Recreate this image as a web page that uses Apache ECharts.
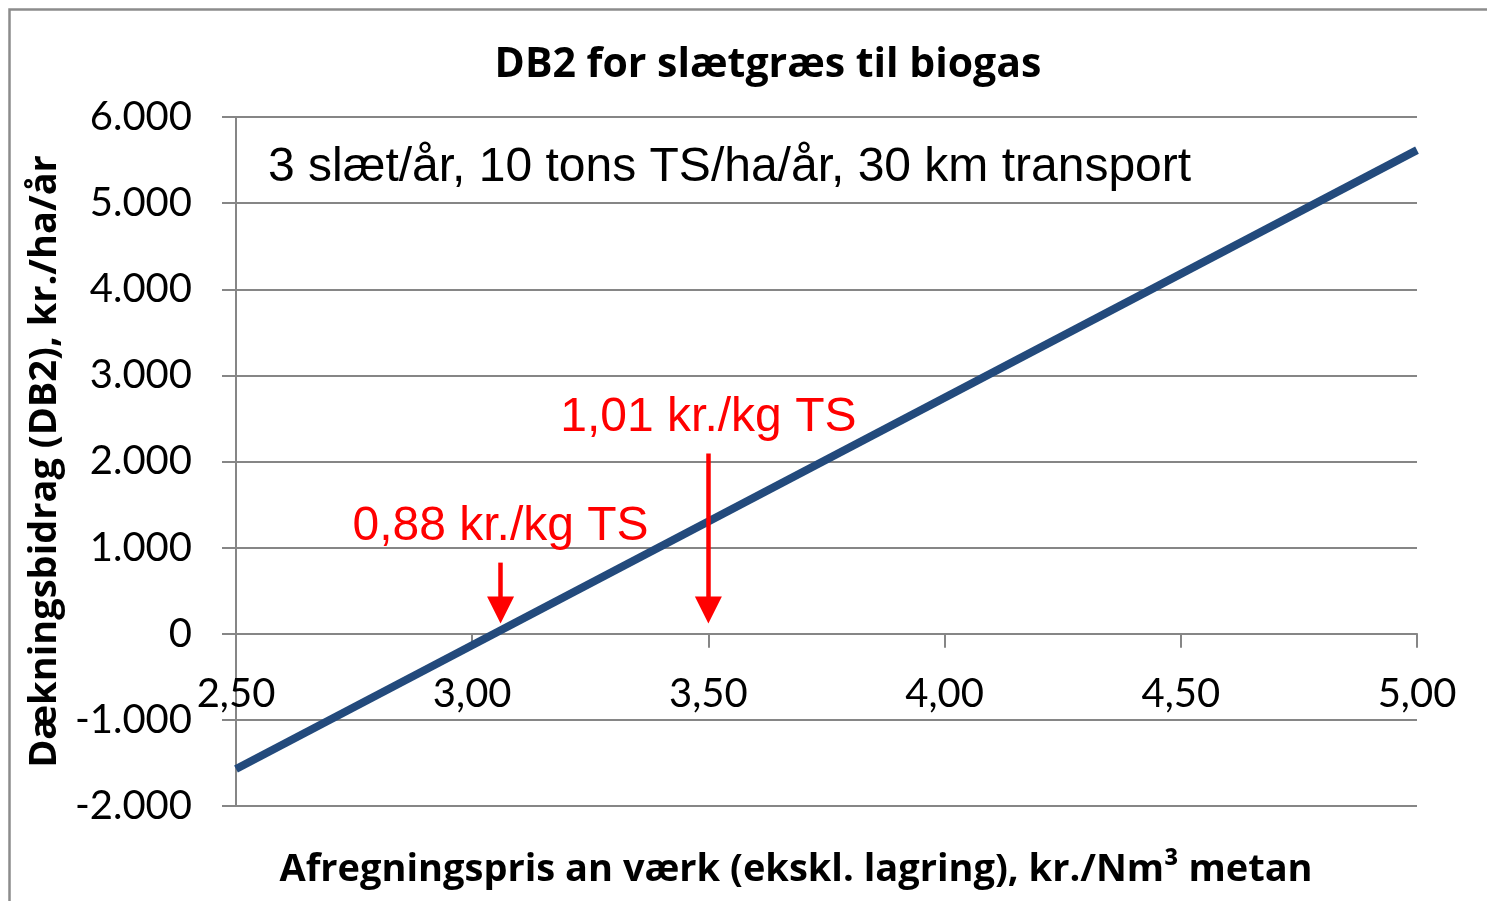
<!doctype html>
<html>
	<head>
		<meta charset="utf-8">
		<title>DB2 for slætgræs til biogas</title>
		<script src="https://cdn.jsdelivr.net/npm/echarts@6/dist/echarts.min.js"></script>
		<style>
			html, body {
				margin: 0;
				padding: 0;
				background: #ffffff;
			}
			#chart {
				width: 1487px;
				height: 901px;
			}
		</style>
	</head>

	<body>
		<div id="chart"></div>
	</body>

	<script type="text/javascript">
		//afregningspris (x) og DB2 (y) for linjen
		var prices = [2.5, 5.0];
		var db2 = [-1570, 5615];
		//pile: x, top og slut (midten af pilehovedet)
		var arrowX = [3.06, 3.50];
		var arrowTop = [826, 2093];
		var arrowEnd = [275, 275];
		var arrowLabels = ['0,88 kr./kg TS', '1,01 kr./kg TS'];
		//akser
		var xMin = 2.5, xMax = 5.0, xStep = 0.5;
		var yMin = -2000, yMax = 6000, yStep = 1000;

		var titleText = 'DB2 for slætgræs til biogas';
		var noteText = '3 slæt/år, 10 tons TS/ha/år, 30 km transport';
		var xName = 'Afregningspris an værk (ekskl. lagring), kr./Nm³ metan';
		var yName = 'Dækningsbidrag (DB2), kr./ha/år';

		var gray = '#868686';
		var calibri = 'Lato, "Open Sans", sans-serif';
		var calibriBold = '"Open Sans", Lato, sans-serif';
		var arial = '"Liberation Sans", Arial, sans-serif';

		var gridTop = 117, gridBottom = 95, chartHeight = 901;
		var gridHeight = chartHeight - gridTop - gridBottom;
		//x-aksen ligger på 0-linjen
		var xAxisOffset = -(0 - yMin) / (yMax - yMin) * gridHeight;

		var byId = function(id) {
			return document.getElementById(id);
		};

		//tal med punktum som tusindtalsseparator
		var fmtThousands = function(v) {
			var s = String(Math.abs(v));
			s = s.replace(/\B(?=(\d{3})+(?!\d))/g, '.');
			return (v < 0 ? '-' : '') + s;
		};

		var chart = echarts.init(byId('chart'));

		var linePoints = prices.map(function(p, i) {
			return [p, db2[i]];
		});
		var arrowLines = arrowX.map(function(x, i) {
			return [{ coord: [x, arrowTop[i]] }, { coord: [x, arrowEnd[i]] }];
		});
		var labelPoints = arrowX.map(function(x, i) {
			return { value: [x, arrowTop[i]], name: arrowLabels[i] };
		});

		var option = {
			animation: false,
			grid: {
				left: 236,
				right: 70,
				top: gridTop,
				bottom: gridBottom
			},
			graphic: [{
				type: 'rect',
				shape: { x: 9.5, y: 9.5, width: 1500, height: 920 },
				style: { fill: 'none', stroke: '#8c8c8c', lineWidth: 2.5 },
				silent: true
			}, {
				type: 'text',
				x: 768,
				y: 65,
				style: {
					text: titleText,
					font: 'bold 41px ' + calibriBold,
					fill: '#000',
					textAlign: 'center',
					textVerticalAlign: 'middle'
				}
			}, {
				type: 'text',
				x: 268,
				y: 168,
				style: {
					text: noteText,
					font: '48px ' + arial,
					fill: '#000',
					textAlign: 'left',
					textVerticalAlign: 'middle'
				}
			}, {
				type: 'text',
				x: 796,
				y: 870,
				style: {
					text: xName,
					font: 'bold 38px ' + calibriBold,
					fill: '#000',
					textAlign: 'center',
					textVerticalAlign: 'middle'
				}
			}],
			xAxis: {
				type: 'value',
				min: xMin,
				max: xMax,
				interval: xStep,
				offset: xAxisOffset,
				axisLine: {
					onZero: false,
					lineStyle: { color: gray, width: 2 }
				},
				axisTick: {
					show: true,
					length: 14,
					lineStyle: { color: gray, width: 2 }
				},
				axisLabel: {
					margin: 40,
					color: '#000',
					fontFamily: calibri,
					fontSize: 40,
					formatter: function(v) {
						return v.toFixed(2).replace('.', ',');
					}
				},
				splitLine: { show: false }
			},
			yAxis: {
				type: 'value',
				min: yMin,
				max: yMax,
				interval: yStep,
				name: yName,
				nameLocation: 'middle',
				nameGap: 170,
				nameTextStyle: {
					color: '#000',
					fontFamily: calibriBold,
					fontWeight: 'bold',
					fontSize: 38
				},
				axisLine: {
					show: true,
					onZero: false,
					lineStyle: { color: gray, width: 2 }
				},
				axisTick: {
					show: true,
					length: 14,
					lineStyle: { color: gray, width: 2 }
				},
				axisLabel: {
					margin: 44,
					color: '#000',
					fontFamily: calibri,
					fontSize: 40,
					formatter: fmtThousands
				},
				splitLine: {
					show: true,
					lineStyle: { color: gray, width: 2 }
				}
			},
			series: [{
				name: 'DB2',
				type: 'line',
				data: linePoints,
				showSymbol: false,
				symbol: 'none',
				silent: true,
				lineStyle: { color: '#234a7c', width: 8 },
				markLine: {
					silent: true,
					symbol: ['none', 'triangle'],
					symbolSize: 27,
					label: { show: false },
					lineStyle: { color: '#ff0000', width: 4.5, type: 'solid' },
					emphasis: { disabled: true },
					data: arrowLines
				}
			}, {
				name: 'labels',
				type: 'scatter',
				data: labelPoints,
				symbol: 'circle',
				symbolSize: 0,
				silent: true,
				itemStyle: { opacity: 1 },
				label: {
					show: true,
					position: 'top',
					distance: 12,
					formatter: '{b}',
					color: '#ff0000',
					fontFamily: arial,
					fontSize: 48
				}
			}]
		};

		chart.setOption(option);
	</script>

</html>
